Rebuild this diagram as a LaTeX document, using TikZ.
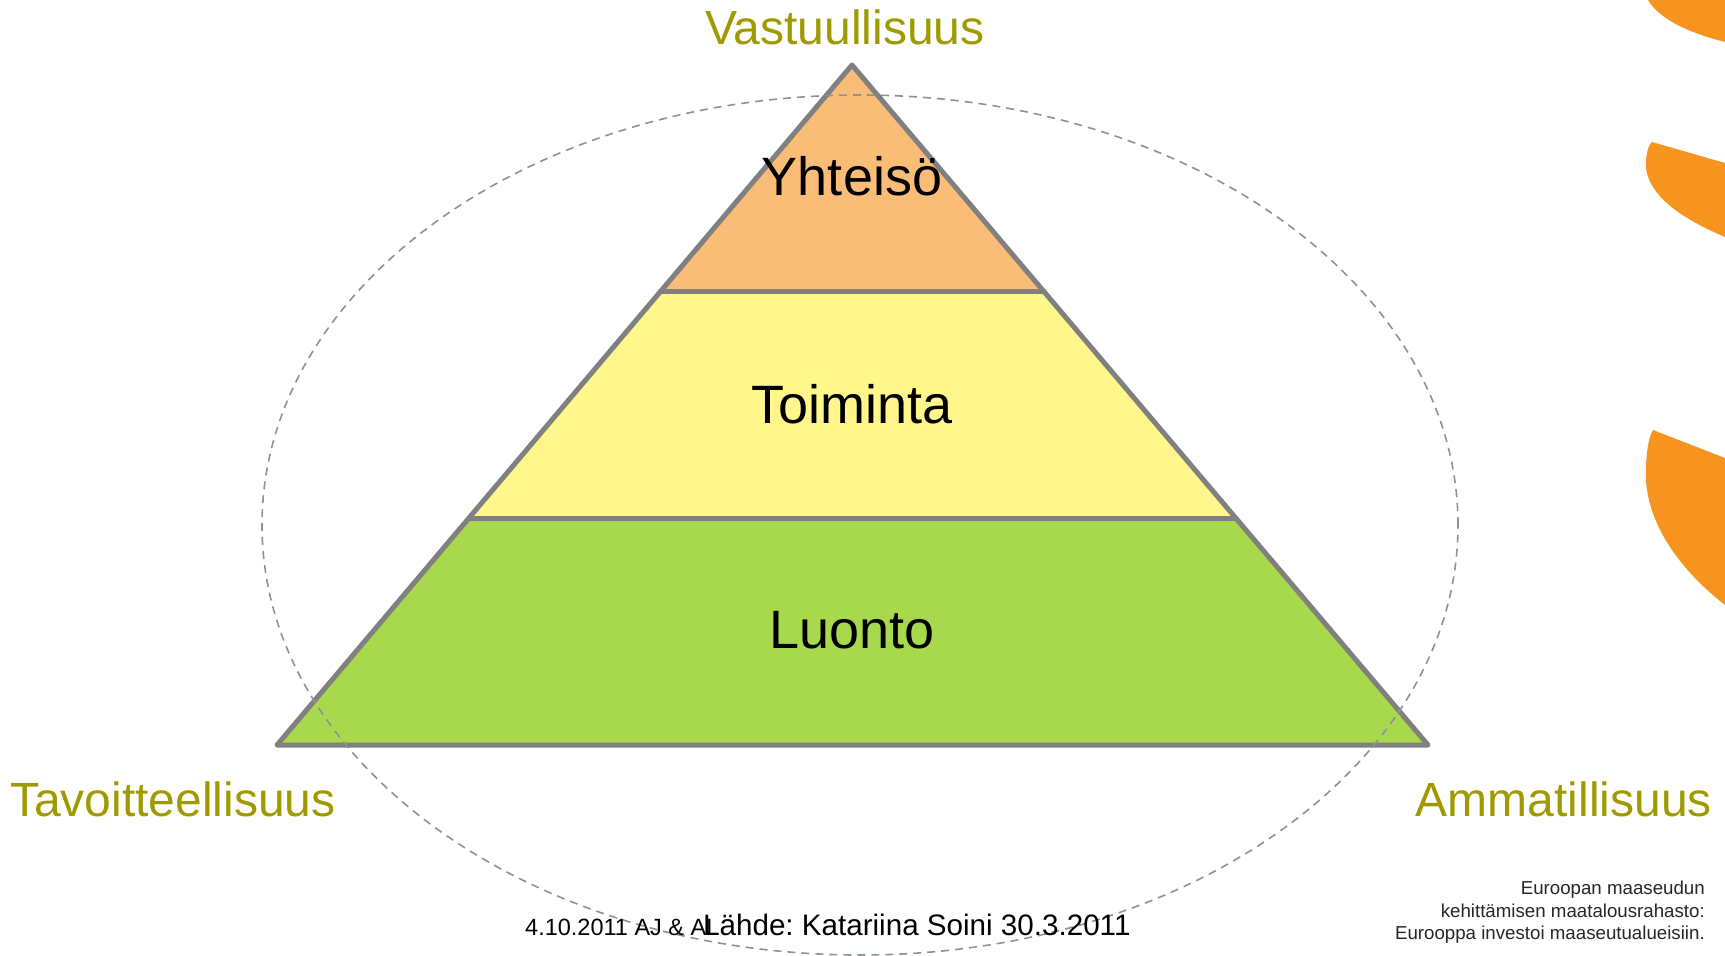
\documentclass[tikz,border=0pt]{standalone}
\usepackage{fontspec}
\setmainfont{Liberation Sans}
\usetikzlibrary{calc}
\definecolor{olive}{HTML}{9F9A00}
\definecolor{edge}{HTML}{808080}
\definecolor{topfill}{HTML}{F9BD77}
\definecolor{midfill}{HTML}{FFF78B}
\definecolor{lowfill}{HTML}{A8D84B}
\definecolor{sunorange}{HTML}{F7941D}
\definecolor{ringgray}{HTML}{8C9298}
\frenchspacing
\begin{document}
\begin{tikzpicture}[x=1pt,y=-1pt,
  corner/.style={text=olive,font=\fontsize{48}{54}\selectfont,inner sep=0pt},
  layer/.style={text=black,font=\fontsize{54}{60}\selectfont,inner sep=0pt},
  pyredge/.style={draw=edge,line width=5pt,line join=round,line cap=round}]
\useasboundingbox (0,0) rectangle (1725,956);
% sun petals on the right edge
\fill[sunorange] (1648,0) .. controls (1660,20) and (1690,33) .. (1725,42) -- (1725,0) -- cycle;
\fill[sunorange] (1652,142) -- (1725,163) -- (1725,237) .. controls (1685,220) and (1643,195) .. (1646,160) .. controls (1647,150) and (1649,145) .. cycle;
\fill[sunorange] (1653,430) -- (1725,458) -- (1725,605) .. controls (1680,570) and (1642,520) .. (1646,465) .. controls (1647,445) and (1650,435) .. cycle;
% pyramid
\coordinate (apex) at (852,65);
\coordinate (bl) at (277,745);
\coordinate (br) at (1428,745);
\coordinate (l1) at ($(apex)!0.3333!(bl)$);
\coordinate (r1) at ($(apex)!0.3333!(br)$);
\coordinate (l2) at ($(apex)!0.6667!(bl)$);
\coordinate (r2) at ($(apex)!0.6667!(br)$);
\fill[topfill] (apex) -- (l1) -- (r1) -- cycle;
\fill[midfill] (l1) -- (l2) -- (r2) -- (r1) -- cycle;
\fill[lowfill] (l2) -- (bl) -- (br) -- (r2) -- cycle;
\draw[pyredge] (apex) -- (bl) -- (br) -- cycle;
\draw[pyredge] (l1) -- (r1);
\draw[pyredge] (l2) -- (r2);
% dashed ring
\draw[ringgray,line width=1.6pt,dash pattern=on 8pt off 6pt] (860,525) ellipse [x radius=598pt,y radius=430pt];
% labels
\node[layer] (yht) at (852,176) {Yhteisö};
\node[layer] (toi) at (852,404) {Toiminta};
\node[layer] (luo) at (852,630) {Luonto};
\node[corner,anchor=base] (vas) at (845,44) {Vastuullisuus};
\node[corner,anchor=base west] (tav) at (10,816) {Tavoitteellisuus};
\node[corner,anchor=base east] (amm) at (1712,816) {Ammatillisuus};
\node[inner sep=0pt,anchor=base west,font=\fontsize{23.5}{27}\selectfont] (date) at (525,935) {4.10.2011 AJ \& AL};
\node[inner sep=0pt,anchor=base west,font=\fontsize{29.6}{34}\selectfont] (src) at (703,935) {Lähde: Katariina Soini 30.3.2011};
\node[inner sep=0pt,anchor=north east,align=right,font=\fontsize{18.7}{22.5}\selectfont,text=black!85] (eu) at (1705,881) {Euroopan maaseudun\\kehittämisen maatalousrahasto:\\Eurooppa investoi maaseutualueisiin.};
\end{tikzpicture}
\end{document}
